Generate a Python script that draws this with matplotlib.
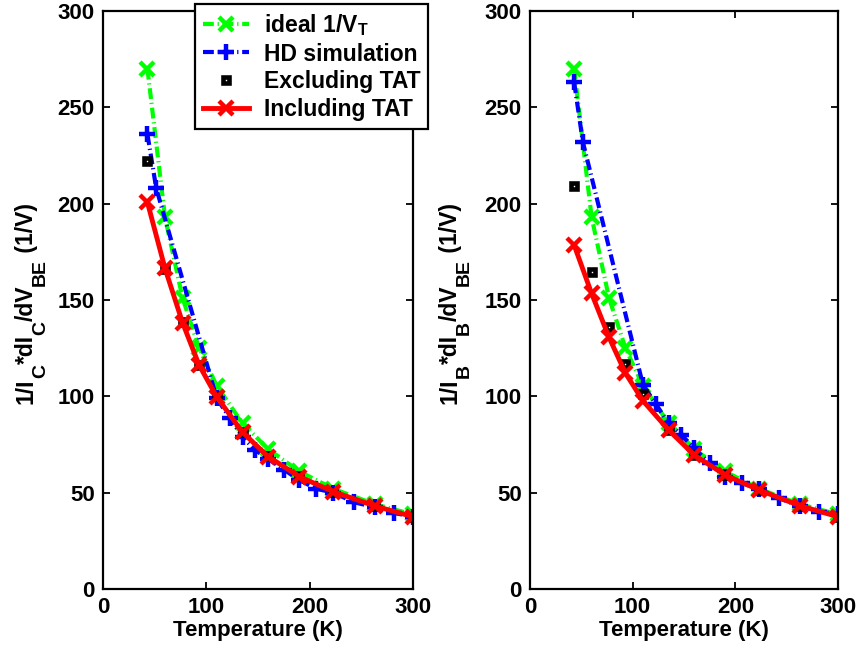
import matplotlib
matplotlib.use("Agg")
import matplotlib.pyplot as plt

plt.rcParams['font.family'] = ['Liberation Sans', 'DejaVu Sans']
plt.rcParams['font.weight'] = 'bold'
plt.rcParams['mathtext.fontset'] = 'custom'
plt.rcParams['mathtext.rm'] = 'Liberation Sans:bold'
plt.rcParams['mathtext.bf'] = 'Liberation Sans:bold'
plt.rcParams['mathtext.it'] = 'Liberation Sans:bold'
plt.rcParams['mathtext.default'] = 'bf'

# ---------------- data ----------------
T_coarse = [43, 60, 77, 93, 110, 135, 160, 190, 223, 263, 300]
T_hd = [43, 51.5, 110, 122.5, 135, 147.5, 160, 175, 190, 206.5, 223,
        243, 263, 281.5, 300]

ideal = [270, 193, 151, 125, 105.5, 86, 72.5, 61, 52, 44, 38.7]

# left panel (collector)
hd_C = [236, 208, 99, 89, 79, 72, 67.5, 62, 56.5, 52, 50, 45, 42.5, 39.5, 37.5]
excl_C = [222, 166, 138.5, 116.5, 100, 81.5, 69, 58.5, 50.5, 43.2, 37.5]
incl_C = [200.7, 166.4, 138.2, 116.2, 99.8, 81.3, 68.7, 58.3, 50.5, 43.1, 37.5]

# right panel (base)
hd_B = [263, 232, 106, 96, 86, 80, 73, 65.2, 58, 54.9, 52, 47, 43, 40.1, 39]
excl_B = [209, 164.7, 135.8, 116.8, 101.2, 82.7, 69.7, 59.3, 51.5, 43.3, 37.6]
incl_B = [178.5, 153.4, 130.6, 112, 97.7, 82.5, 69.5, 59.2, 51.4, 43.2, 37.5]

labels = [r'ideal 1/V$_{T}$', 'HD simulation', 'Excluding TAT', 'Including TAT']
ylabel_C = [('1/I', 'main'), ('C', 'sub'), ('*dI', 'main'), ('C', 'sub'),
            ('/dV', 'main'), ('BE', 'sub'), (' (1/V)', 'main')]
ylabel_B = [('1/I', 'main'), ('B', 'sub'), ('*dI', 'main'), ('B', 'sub'),
            ('/dV', 'main'), ('BE', 'sub'), (' (1/V)', 'main')]
xticks = [0, 100, 200, 300]
yticks = [0, 50, 100, 150, 200, 250, 300]

# ---------------- figure ----------------
W, H = 859, 651
fig = plt.figure(figsize=(W / 100, H / 100), dpi=100)
axL = fig.add_axes([103 / W, 62 / H, 310 / W, 578 / H])
axR = fig.add_axes([530 / W, 62 / H, 308 / W, 578 / H])

dashdot = (0, (2.6, 0.9, 0.3, 0.9))
FS = 16


def draw(ax, hd, excl, incl):
    h1, = ax.plot(T_coarse, ideal, color=(0, 1, 0), linestyle=dashdot, lw=3,
                  marker='x', ms=10, mew=3.2)
    h2, = ax.plot(T_hd, hd, color=(0, 0, 1), linestyle=dashdot, lw=3,
                  marker='+', ms=12, mew=3.2)
    h3, = ax.plot(T_coarse, excl, color='k', linestyle='none',
                  marker='s', ms=4.5, mew=3.3, mfc='none')
    h4, = ax.plot(T_coarse, incl, color=(1, 0, 0), linestyle='-', lw=3.5,
                  marker='x', ms=10, mew=3.2)
    ax.set_xlim(0, 300)
    ax.set_ylim(0, 300)
    ax.set_xticks(xticks)
    ax.set_yticks(yticks)
    ax.tick_params(direction='in', top=True, right=True, length=5, width=1.3,
                   labelsize=FS, pad=6)
    for lab in ax.get_xticklabels() + ax.get_yticklabels():
        lab.set_fontweight('bold')
    for s in ax.spines.values():
        s.set_linewidth(1.6)
    ax.set_xlabel('Temperature (K)', fontsize=FS, fontweight='bold', labelpad=1)
    return [h1, h2, h3, h4]


handles = draw(axL, hd_C, excl_C, incl_C)
draw(axR, hd_B, excl_B, incl_B)

leg = axL.legend(handles, labels, loc='upper left',
                 bbox_to_anchor=(195 / W, 1 - 4 / H),
                 bbox_transform=fig.transFigure, borderaxespad=0,
                 prop={'size': 16.5, 'weight': 'bold'}, handlelength=2.0,
                 handletextpad=0.65, labelspacing=0.2, borderpad=0.35,
                 fancybox=False, framealpha=1, edgecolor='k')
leg.get_frame().set_linewidth(1.6)
leg.set_zorder(10)

# rotated y labels assembled from pieces (large subscripts, as in the source)
renderer = fig.canvas.get_renderer()
SIZES = {'main': 16.5, 'sub': 14}
SUB_DX = 12


def vlabel(x_base, y_bottom, pieces):
    y = y_bottom
    for s, kind in pieces:
        dx = SUB_DX if kind == 'sub' else 0
        t = fig.text((x_base + dx) / W, y / H, s, rotation=90,
                     rotation_mode='anchor', ha='left', va='baseline',
                     fontsize=SIZES[kind], fontweight='bold')
        y += t.get_window_extent(renderer).height


vlabel(33, H - 404, ylabel_C)
vlabel(457, H - 404, ylabel_B)

fig.savefig('out.png', dpi=100)
